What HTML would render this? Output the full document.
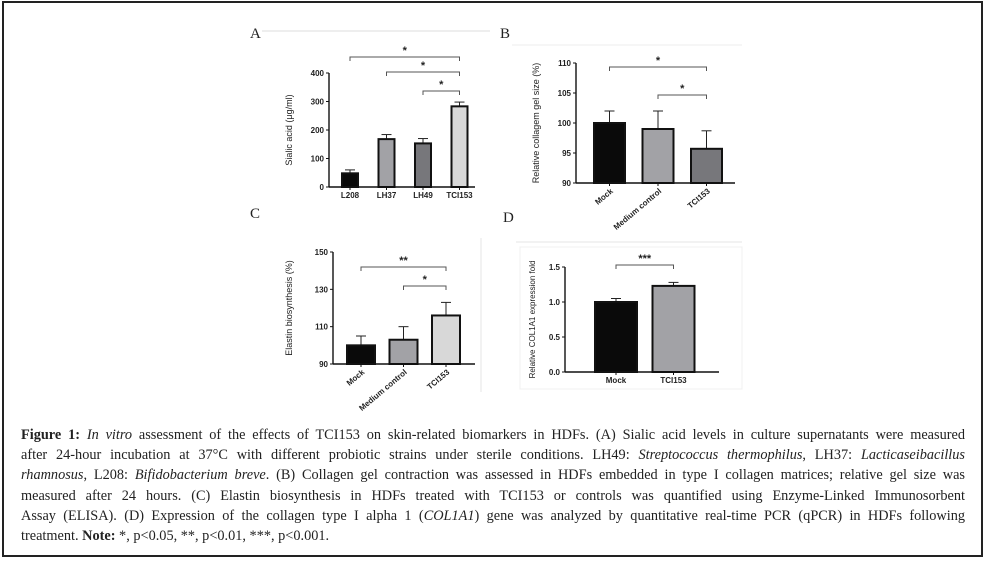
<!DOCTYPE html>
<html><head><meta charset="utf-8"><style>
html,body{margin:0;padding:0;background:#fff;width:984px;height:561px;overflow:hidden}
#frame{position:absolute;left:2px;top:1px;width:977px;height:552px;border:2px solid #222;box-sizing:content-box}
#cap{position:absolute;left:21px;top:425px;width:944px;font-family:"Liberation Serif",serif;font-size:14.3px;color:#222;line-height:20.2px}
#cap div{text-align:justify;text-align-last:justify;white-space:nowrap;overflow:visible}
#cap div.last{text-align-last:left}
svg{position:absolute;left:0;top:0}
</style></head><body>
<div id="frame"></div>
<svg id="chart" width="984" height="561" font-family="Liberation Sans, sans-serif"></svg>
<div id="cap">
<div><b>Figure 1:</b> <i>In vitro</i> assessment of the effects of TCI153 on skin-related biomarkers in HDFs. (A) Sialic acid levels in culture supernatants were measured</div>
<div>after 24-hour incubation at 37°C with different probiotic strains under sterile conditions. LH49: <i>Streptococcus thermophilus</i>, LH37: <i>Lacticaseibacillus</i></div>
<div><i>rhamnosus</i>, L208: <i>Bifidobacterium breve</i>. (B) Collagen gel contraction was assessed in HDFs embedded in type I collagen matrices; relative gel size was</div>
<div>measured after 24 hours. (C) Elastin biosynthesis in HDFs treated with TCI153 or controls was quantified using Enzyme-Linked Immunosorbent</div>
<div>Assay (ELISA). (D) Expression of the collagen type I alpha 1 (<i>COL1A1</i>) gene was analyzed by quantitative real-time PCR (qPCR) in HDFs following</div>
<div class="last">treatment. <b>Note:</b> *, p&lt;0.05, **, p&lt;0.01, ***, p&lt;0.001.</div>
</div>
<script>
// Panel A
const catsA=["L208","LH37","LH49","TCI153"];
const valsA=[48,168,153,283];
const errA=[12,16,17,15];
const ticksA=[0,100,200,300,400];
// Panel B
const catsB=["Mock","Medium control","TCI153"];
const valsB=[100,99,95.7];
const errB=[2,3,3];
const ticksB=[90,95,100,105,110];
// Panel C
const catsC=["Mock","Medium control","TCI153"];
const valsC=[100,103,116];
const errC=[5,7,7];
const ticksC=[90,110,130,150];
// Panel D
const catsD=["Mock","TCI153"];
const valsD=[1.0,1.23];
const errD=[0.05,0.05];
const ticksD=["0.0","0.5","1.0","1.5"];

const svg=document.getElementById('chart');
const NS='http://www.w3.org/2000/svg';
function el(tag,attrs,parent){const e=document.createElementNS(NS,tag);for(const k in attrs)e.setAttribute(k,attrs[k]);(parent||svg).appendChild(e);return e;}
function txt(s,attrs,parent){const e=el('text',attrs,parent);e.textContent=s;return e;}

function panel(cfg){
  const g=el('g',{});
  
  
  const y=v=>cfg.y0-(v-cfg.min)/(cfg.max-cfg.min)*(cfg.y0-cfg.y1);
  const ax=el('line',{x1:cfg.ax,y1:cfg.y1,x2:cfg.ax,y2:cfg.y0,stroke:'#111','stroke-width':1.4},g);
  
  const xa=el('line',{x1:cfg.ax,y1:cfg.y0,x2:cfg.axEnd,y2:cfg.y0,stroke:'#111','stroke-width':1.4},g);
  
  cfg.ticks.forEach(t=>{const v=parseFloat(t);const yy=y(v);
    el('line',{x1:cfg.ax-3,y1:yy,x2:cfg.ax,y2:yy,stroke:'#111','stroke-width':1},g);
    const tl=txt(String(t),{x:cfg.ax-5,y:yy+3,'font-size':8,'font-weight':'bold','text-anchor':'end',fill:'#222'},g);
    
  });
  const yt=txt(cfg.ytitle,{x:0,y:0,'font-size':cfg.ytfs||9,'text-anchor':'middle',fill:'#222',transform:`translate(${cfg.ytx},${(cfg.y0+cfg.y1)/2}) rotate(-90)`},g);
  
  const centers=[];
  cfg.cats.forEach((c,i)=>{
    const cx=cfg.c0+i*cfg.step; centers.push(cx);
    const top=y(cfg.vals[i]);
    const et=y(cfg.vals[i]+cfg.err[i]);
    const eb=el('line',{x1:cx,y1:et,x2:cx,y2:top,stroke:'#222','stroke-width':1},g);
    
    el('line',{x1:cx-5,y1:et,x2:cx+5,y2:et,stroke:'#222','stroke-width':1},g);
    const b=el('rect',{x:cx-cfg.bw/2,y:top,width:cfg.bw,height:cfg.y0-top,fill:cfg.colors[i],stroke:'#111','stroke-width':2},g);
    
    el('line',{x1:cx,y1:cfg.y0,x2:cx,y2:cfg.y0+3,stroke:'#111','stroke-width':1},g);
    let lab;
    if(cfg.rot){lab=txt(c,{x:0,y:0,'font-size':8,'font-weight':'bold','text-anchor':'end',fill:'#222',transform:`translate(${cx+4},${cfg.y0+9}) rotate(-40)`},g);}
    else lab=txt(c,{x:cx,y:cfg.y0+11,'font-size':8,'font-weight':'bold','text-anchor':'middle',fill:'#222'},g);
    
  });
  cfg.brackets.forEach(br=>{
    const x1=centers[br[0]],x2=centers[br[1]],yy=br[2];
    const p=el('path',{d:`M${x1},${yy+4}V${yy}H${x2}V${yy+4}`,fill:'none',stroke:'#555','stroke-width':1},g);
    
    const s=txt(br[3],{x:(x1+x2)/2,y:yy-3,'font-size':11,'font-weight':'bold','text-anchor':'middle',fill:'#222'},g);
    
  });
}

el('line',{x1:262,y1:31,x2:490,y2:31,stroke:'#ddd','stroke-width':1});
el('line',{x1:512,y1:45,x2:742,y2:45,stroke:'#eee','stroke-width':1});
el('line',{x1:481,y1:238,x2:481,y2:392,stroke:'#e6e6e6','stroke-width':1});
el('line',{x1:516,y1:242,x2:742,y2:242,stroke:'#e6e6e6','stroke-width':1});
el('rect',{x:520,y:247,width:222,height:142,fill:'none',stroke:'#f0f0f0','stroke-width':1});
[["A",250,38],["B",500,38],["C",250,218],["D",503,222]].forEach(p=>{
  const t=txt(p[0],{x:p[1],y:p[2],'font-size':15,'font-family':'Liberation Serif, serif',fill:'#222'});
  
});

panel({name:'panel-a-sialic-acid',cats:catsA,vals:valsA,err:errA,ticks:ticksA,min:0,max:400,y0:187,y1:73,ax:329,axEnd:475,c0:350,step:36.5,bw:16,
  colors:['#0a0a0a','#a2a2a6','#77777b','#d8d8d8'],ytitle:'Sialic acid (μg/ml)',ytx:292,
  brackets:[[0,3,57,'*'],[1,3,72,'*'],[2,3,91,'*']]});
panel({name:'panel-b-collagen-gel',cats:catsB,vals:valsB,err:errB,ticks:ticksB,min:90,max:110,y0:183,y1:63,ax:576,axEnd:735,c0:609.5,step:48.5,bw:31,rot:true,
  colors:['#0a0a0a','#a2a2a6','#77777b'],ytitle:'Relative collagem gel size (%)',ytx:539,
  brackets:[[0,2,67,'*'],[1,2,95,'*']]});
panel({name:'panel-c-elastin',cats:catsC,vals:valsC,err:errC,ticks:ticksC,min:90,max:150,y0:364,y1:252,ax:333,axEnd:475,c0:361,step:42.5,bw:28,rot:true,
  colors:['#0a0a0a','#a2a2a6','#d8d8d8'],ytitle:'Elastin biosynthesis (%)',ytx:292,
  brackets:[[0,2,267,'**'],[1,2,286,'*']]});
panel({name:'panel-d-col1a1',cats:catsD,vals:valsD,err:errD,ticks:ticksD,min:0,max:1.5,y0:372,y1:267,ax:565,axEnd:719,c0:616,step:57.5,bw:42,
  colors:['#0a0a0a','#a2a2a6'],ytitle:'Relative COL1A1 expression fold',ytx:535,ytfs:8,
  brackets:[[0,1,265,'***']]});
</script>
</body></html>
